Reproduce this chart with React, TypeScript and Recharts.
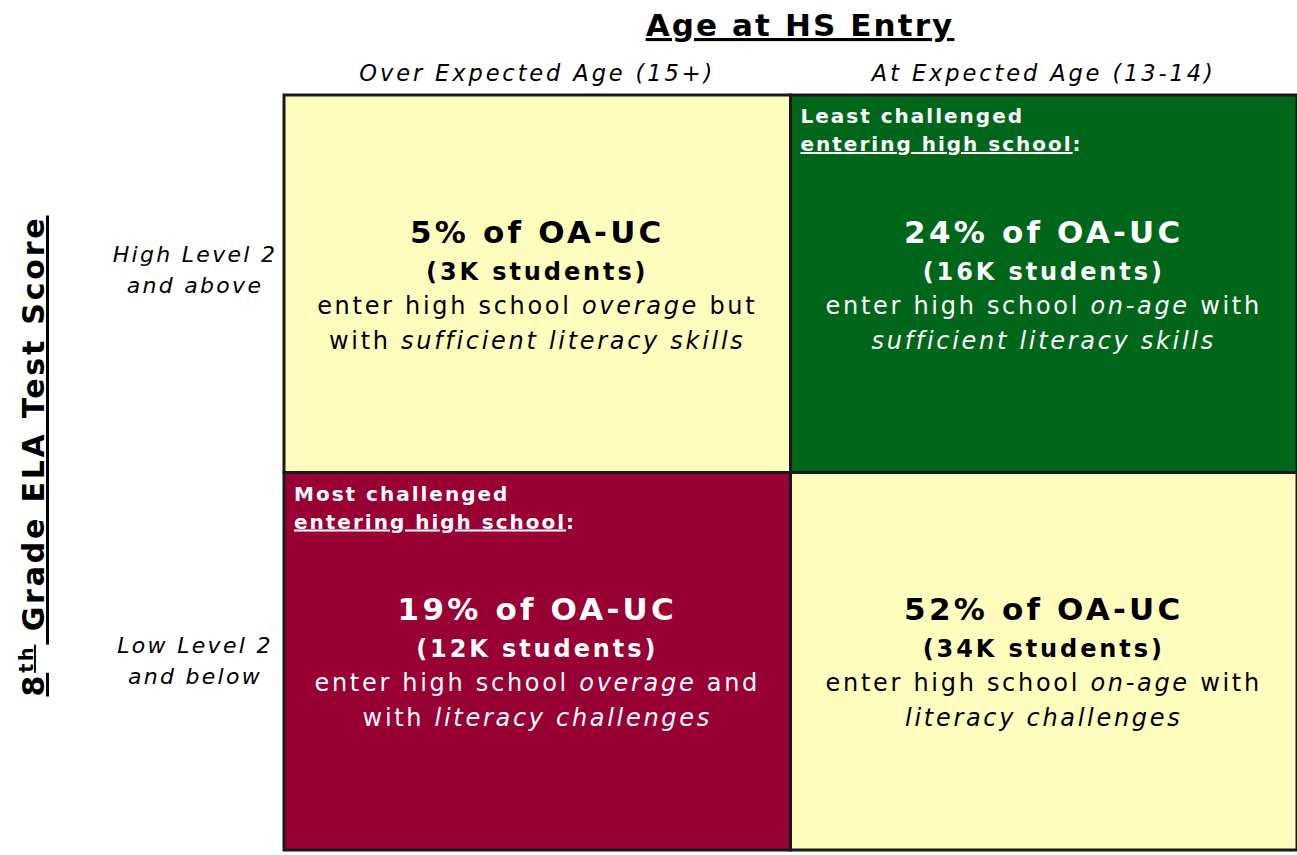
import React from 'react';
import { ScatterChart, XAxis, YAxis, ReferenceArea, Customized } from 'recharts';

// ---- data ----
const columnLabels = ['Over Expected Age (15+)', 'At Expected Age (13-14)'];
const rowLabels = [
  ['Low Level 2', 'and below'],
  ['High Level 2', 'and above'],
];
const cellCol = [0, 1, 0, 1];
const cellRow = [1, 1, 0, 0];
const cellShares = ['5%', '24%', '19%', '52%'];
const cellStudents = ['3K', '16K', '12K', '34K'];
const cellAge = ['overage', 'on-age', 'overage', 'on-age'];
const cellJoin = ['but', 'with', 'and', 'with'];
const cellLiteracy = [
  'sufficient literacy skills',
  'sufficient literacy skills',
  'literacy challenges',
  'literacy challenges',
];
const cellWithPrefix = [true, false, true, false];
const cellCallouts = ['', 'Least challenged', 'Most challenged', ''];
const calloutSub = 'entering high school';
const groupName = 'OA-UC';
const titleText = 'Age at HS Entry';
const yTitleParts = ['8', 'th', ' Grade ELA Test Score'];

// ---- styles ----
const FONT = '"DejaVu Sans", Verdana, sans-serif';
const CELL_FILLS = ['#FFFDBE', '#00661A', '#990033', '#FFFDBE'];
const CELL_TEXT = ['#000000', '#FFFFFF', '#FFFFFF', '#000000'];

const CellLabel = (idx: number) => (props: any) => {
  const vb = props.viewBox || {};
  const { x, y, width, height } = vb;
  const cx = x + width / 2;
  const cy = y + height / 2;
  const color = CELL_TEXT[idx];
  return (
    <g fontFamily={FONT} fill={color}>
      {cellCallouts[idx] ? (
        <g fontSize={20} fontWeight="bold" letterSpacing={2}>
          <text x={x + 10} y={y + 28}>{cellCallouts[idx]}</text>
          <text x={x + 10} y={y + 56}>
            <tspan style={{ textDecoration: 'underline' }}>{calloutSub}</tspan>
            <tspan>:</tspan>
          </text>
        </g>
      ) : null}
      <text x={cx} y={cy - 41} textAnchor="middle" fontSize={31} fontWeight="bold" letterSpacing={3.2}>
        {`${cellShares[idx]} of ${groupName}`}
      </text>
      <text x={cx} y={cy - 4} textAnchor="middle" fontSize={24} fontWeight="bold" letterSpacing={2.9}>
        {`(${cellStudents[idx]} students)`}
      </text>
      <text x={cx} y={cy + 30} textAnchor="middle" fontSize={24} letterSpacing={2.7}>
        <tspan>enter high school </tspan>
        <tspan fontStyle="italic">{cellAge[idx]}</tspan>
        <tspan>{` ${cellJoin[idx]}`}</tspan>
      </text>
      <text x={cx} y={cy + 65} textAnchor="middle" fontSize={24} letterSpacing={2.7}>
        {cellWithPrefix[idx] ? <tspan>with </tspan> : null}
        <tspan fontStyle="italic">{cellLiteracy[idx]}</tspan>
      </text>
    </g>
  );
};

const ColumnTick = (props: any) => {
  const { x, payload } = props;
  const label = columnLabels[Math.floor(payload.value)];
  return (
    <text
      x={x}
      y={81}
      textAnchor="middle"
      fontFamily={FONT}
      fontSize={22.5}
      fontStyle="italic"
      letterSpacing={2.9}
      fill="#000"
    >
      {label}
    </text>
  );
};

const RowTick = (props: any) => {
  const { y, payload } = props;
  const idx = Math.floor(payload.value);
  const lines = rowLabels[idx];
  const off = idx === 1 ? -22 : -8;
  return (
    <g fontFamily={FONT} fontSize={22} fontStyle="italic" letterSpacing={2.3} fill="#000">
      <text x={195} y={y + off} textAnchor="middle">{lines[0]}</text>
      <text x={195} y={y + off + 31} textAnchor="middle">{lines[1]}</text>
    </g>
  );
};

const Titles = () => (
  <g fontFamily={FONT} fill="#000">
    <text
      x={800}
      y={36}
      textAnchor="middle"
      fontSize={31}
      fontWeight="bold"
      letterSpacing={2.1}
      style={{ textDecoration: 'underline' }}
    >
      {titleText}
    </text>
    <text
      x={44}
      y={456}
      textAnchor="middle"
      fontSize={30}
      fontWeight="bold"
      letterSpacing={2.8}
      transform="rotate(-90, 44, 456)"
      style={{ textDecoration: 'underline' }}
    >
      <tspan>{yTitleParts[0]}</tspan>
      <tspan fontSize={19} dy={-11}>{yTitleParts[1]}</tspan>
      <tspan dy={11}>{yTitleParts[2]}</tspan>
    </text>
  </g>
);

export default function App() {
  return (
    <div style={{ position: 'absolute', left: 0, top: 0, width: 1297, height: 855, background: '#fff' }}>
      <ScatterChart width={1297} height={855} margin={{ top: 35, right: 0, bottom: 5, left: 104 }}>
        <XAxis
          type="number"
          dataKey="x"
          domain={[0, 2]}
          ticks={[0.5, 1.5]}
          orientation="top"
          height={60}
          axisLine={false}
          tickLine={false}
          tick={<ColumnTick />}
          allowDataOverflow
        />
        <YAxis
          type="number"
          dataKey="y"
          domain={[0, 2]}
          ticks={[0.5, 1.5]}
          width={180}
          axisLine={false}
          tickLine={false}
          tick={<RowTick />}
          allowDataOverflow
        />
        {cellShares.map((_, i) => (
          <ReferenceArea
            key={i}
            x1={cellCol[i]}
            x2={cellCol[i] + 1}
            y1={cellRow[i]}
            y2={cellRow[i] + 1}
            fill={CELL_FILLS[i]}
            fillOpacity={1}
            stroke="#1a1a1a"
            strokeWidth={3}
            ifOverflow="visible"
            label={{ content: CellLabel(i) }}
          />
        ))}
        <Customized component={Titles} />
      </ScatterChart>
    </div>
  );
}
